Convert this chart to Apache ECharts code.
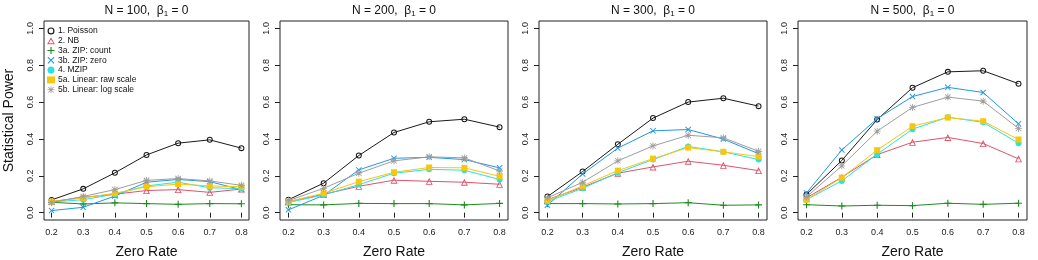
<!DOCTYPE html>
<html>
<head>
<meta charset="utf-8">
<script src="https://cdn.jsdelivr.net/npm/echarts@6/dist/echarts.min.js"></script>
<style>
  html, body { margin: 0; padding: 0; background: #fff; }
  #chart { width: 1038px; height: 260px; }
</style>
</head>
<body>
<div id="chart"></div>
<script>
// ---- data ----
const zeroRate = [0.2, 0.3, 0.4, 0.5, 0.6, 0.7, 0.8];
const sampleSizes = [100, 200, 300, 500];
const yTicks = [0, 0.2, 0.4, 0.6, 0.8, 1.0];
const methodNames = ['1. Poisson', '2. NB', '3a. ZIP: count', '3b. ZIP: zero', '4. MZIP', '5a. Linear: raw scale', '5b. Linear: log scale'];

// rows: N = 100, 200, 300, 500
const poisson = [
  [0.069, 0.129, 0.216, 0.313, 0.377, 0.395, 0.350],
  [0.070, 0.160, 0.310, 0.435, 0.493, 0.507, 0.464],
  [0.087, 0.223, 0.371, 0.513, 0.600, 0.621, 0.578],
  [0.098, 0.283, 0.505, 0.678, 0.764, 0.770, 0.700]
];
const nb = [
  [0.060, 0.083, 0.100, 0.120, 0.125, 0.110, 0.128],
  [0.060, 0.100, 0.143, 0.176, 0.170, 0.165, 0.154],
  [0.070, 0.138, 0.214, 0.248, 0.279, 0.257, 0.228],
  [0.080, 0.192, 0.315, 0.382, 0.408, 0.375, 0.292]
];
const zipCount = [
  [0.056, 0.047, 0.053, 0.049, 0.045, 0.049, 0.048],
  [0.043, 0.042, 0.050, 0.049, 0.049, 0.042, 0.050],
  [0.049, 0.049, 0.047, 0.049, 0.054, 0.040, 0.042],
  [0.043, 0.036, 0.040, 0.038, 0.051, 0.045, 0.051]
];
const zipZero = [
  [0.011, 0.029, 0.090, 0.165, 0.180, 0.168, 0.125],
  [0.015, 0.094, 0.232, 0.295, 0.300, 0.288, 0.243],
  [0.040, 0.210, 0.350, 0.444, 0.451, 0.399, 0.320],
  [0.107, 0.340, 0.510, 0.630, 0.680, 0.652, 0.482]
];
const mzip = [
  [0.058, 0.070, 0.100, 0.145, 0.165, 0.135, 0.130],
  [0.055, 0.096, 0.152, 0.214, 0.235, 0.230, 0.180],
  [0.060, 0.132, 0.217, 0.288, 0.359, 0.330, 0.288],
  [0.070, 0.172, 0.317, 0.453, 0.518, 0.490, 0.377]
];
const linearRaw = [
  [0.060, 0.080, 0.105, 0.140, 0.155, 0.145, 0.140],
  [0.060, 0.105, 0.168, 0.219, 0.245, 0.243, 0.197],
  [0.065, 0.145, 0.228, 0.293, 0.353, 0.330, 0.304],
  [0.070, 0.190, 0.339, 0.469, 0.516, 0.496, 0.397]
];
const linearLog = [
  [0.055, 0.088, 0.125, 0.175, 0.185, 0.172, 0.148],
  [0.065, 0.132, 0.214, 0.281, 0.303, 0.297, 0.226],
  [0.080, 0.165, 0.281, 0.362, 0.420, 0.406, 0.333],
  [0.085, 0.254, 0.442, 0.571, 0.627, 0.605, 0.457]
];
const methodData = [poisson, nb, zipCount, zipZero, mzip, linearRaw, linearLog];

// ---- styles ----
const colors = ['#1a1a1a', '#DF536B', '#1f8a1f', '#2297E6', '#28E2E5', '#F5C710', '#9E9E9E'];
const RING = 'path://M5,0A5,5 0 1,1 5,10A5,5 0 1,1 5,0Z M5,1.7A3.3,3.3 0 1,0 5,8.3A3.3,3.3 0 1,0 5,1.7Z';
const TRI = 'path://M5,0L10,9L0,9Z M5,2.9L1.9,7.9L8.1,7.9Z';
const PLUS = 'path://M4.2,0H5.8V4.2H10V5.8H5.8V10H4.2V5.8H0V4.2H4.2Z';
const CROSS = 'path://M1.1,0L5,3.9L8.9,0L10,1.1L6.1,5L10,8.9L8.9,10L5,6.1L1.1,10L0,8.9L3.9,5L0,1.1Z';
const STAR = 'path://M4.4,0H5.6V4.4H10V5.6H5.6V10H4.4V5.6H0V4.4H4.4Z M1.5,0.7L5,4.2L8.5,0.7L9.3,1.5L5.8,5L9.3,8.5L8.5,9.3L5,5.8L1.5,9.3L0.7,8.5L4.2,5L0.7,1.5Z';
const symbols = [RING, TRI, PLUS, CROSS, 'circle', 'rect', STAR];
const symbolSizes = [6, 7, 7, 6, 6, 6, 7];

const grids = [
  { left: 44, width: 205, top: 21, height: 199 },
  { left: 280, width: 228, top: 21, height: 199 },
  { left: 539, width: 228, top: 21, height: 199 },
  { left: 798, width: 229, top: 21, height: 199 }
];

const FONT = '"Liberation Sans", Arial, sans-serif';

const option = {
  animation: false,
  backgroundColor: '#fff',
  textStyle: { fontFamily: FONT },
  title: sampleSizes.map((n, i) => ({
    text: 'N = ' + n + ',  β{s|1} = 0',
    left: grids[i].left + grids[i].width / 2,
    textAlign: 'center',
    top: 3,
    padding: 0,
    textStyle: {
      fontFamily: FONT, fontSize: 12, fontWeight: 'normal', color: '#111',
      rich: { s: { fontFamily: FONT, fontSize: 8, color: '#111', padding: [7, 0, 0, 0] } }
    }
  })),
  legend: {
    orient: 'vertical',
    left: 47, top: 26,
    padding: 0,
    itemWidth: 8, itemHeight: 7,
    itemGap: 0,
    textStyle: { fontFamily: FONT, fontSize: 8.5, lineHeight: 9.8, color: '#111', padding: [0, 0, 0, -2] },
    data: methodNames.map((m, k) => ({ name: m, icon: symbols[k] }))
  },
  grid: grids.map(g => Object.assign({ show: true, borderColor: '#222', borderWidth: 1, backgroundColor: 'transparent', outerBoundsMode: 'none', containLabel: false }, g)),
  xAxis: grids.map((g, i) => ({
    type: 'value', gridIndex: i, min: 0.176, max: 0.824,
    splitLine: { show: false },
    axisLine: { show: false },
    axisTick: { show: true, length: 5, inside: false, customValues: zeroRate, lineStyle: { color: '#222' } },
    axisLabel: { customValues: zeroRate, fontSize: 9, color: '#222', margin: 8, fontFamily: FONT,
      formatter: v => v.toFixed(1) },
    name: 'Zero Rate', nameLocation: 'middle', nameGap: 25,
    nameTextStyle: { fontSize: 14, color: '#111', fontFamily: FONT }
  })),
  yAxis: grids.map((g, i) => ({
    type: 'value', gridIndex: i, min: -0.04, max: 1.04,
    splitLine: { show: false },
    axisLine: { show: false },
    axisTick: { show: true, length: 5, inside: false, customValues: yTicks, lineStyle: { color: '#222' } },
    axisLabel: { customValues: yTicks, fontSize: 9, color: '#222', margin: 9, rotate: 90, fontFamily: FONT,
      formatter: v => v.toFixed(1) },
    name: i === 0 ? 'Statistical Power' : '', nameLocation: 'middle', nameGap: 28,
    nameTextStyle: { fontSize: 14, color: '#111', fontFamily: FONT }
  })),
  series: []
};

sampleSizes.forEach((n, p) => {
  methodNames.forEach((m, k) => {
    option.series.push({
      type: 'line',
      name: m,
      xAxisIndex: p, yAxisIndex: p,
      data: zeroRate.map((x, j) => [x, methodData[k][p][j]]),
      symbol: symbols[k],
      symbolSize: symbolSizes[k],
      showAllSymbol: true,
      lineStyle: { color: colors[k], width: 1 },
      itemStyle: { color: colors[k], borderWidth: 0 },
      emphasis: { disabled: true },
      z: 2 + k
    });
  });
});

const chart = echarts.init(document.getElementById('chart'), null, { renderer: 'canvas' });
chart.setOption(option);
</script>
</body>
</html>
